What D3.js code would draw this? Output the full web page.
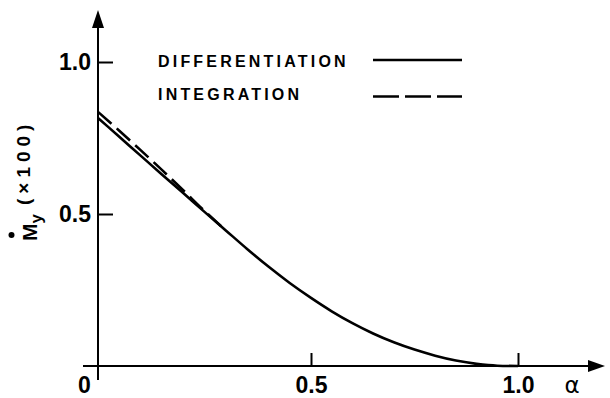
<!DOCTYPE html>
<meta charset="utf-8">
<style>
body { margin: 0; background: #fff; }
.axis-line { stroke: #000; stroke-width: 2px; fill: none; }
.arrow { fill: #000; }
.tick line { stroke: #000; stroke-width: 2px; }
.tick text { font: bold 23px "Liberation Sans", Arial, sans-serif; fill: #000; }
.curve { fill: none; stroke: #000; stroke-width: 2.6px; }
.legend text { font: bold 16px "Liberation Sans", Arial, sans-serif; letter-spacing: 3.2px; fill: #000; }
.legend line { stroke: #000; stroke-width: 2.6px; }
</style>
<svg width="610" height="398"></svg>
<script src="https://d3js.org/d3.v7.min.js"></script>
<script>

// --- data ---
var alphaDiff = [0, 0.05, 0.1, 0.15, 0.2, 0.25, 0.3, 0.35, 0.4, 0.45, 0.5,
                 0.55, 0.6, 0.65, 0.7, 0.75, 0.8, 0.85, 0.9, 0.95, 1.0];
var myDiff = [0.816, 0.754, 0.692, 0.630, 0.569, 0.507, 0.446, 0.385, 0.327, 0.273, 0.224,
              0.180, 0.141, 0.107, 0.078, 0.054, 0.034, 0.018, 0.007, 0.001, 0];
var alphaInt = [0, 0.05, 0.1, 0.15, 0.2, 0.25, 0.3];
var myInt = [0.836, 0.774, 0.710, 0.645, 0.578, 0.510, 0.446];

var xTicks = [0, 0.5, 1.0];
var xTickLabels = ["0", "0.5", "1.0"];
var yTicks = [0.5, 1.0];
var yTickLabels = ["0.5", "1.0"];
var legendNames = ["DIFFERENTIATION", "INTEGRATION"];

var svg = d3.select("svg");

// hand-drawn axis: 0.5 is not quite in the middle
var x = d3.scaleLinear().domain([0, 0.5, 1]).range([98, 311, 518]);
var y = d3.scaleLinear().domain([0, 1]).range([366, 62]);

var line = d3.line()
    .curve(d3.curveMonotoneX)
    .x(function(d) { return x(d[0]); })
    .y(function(d) { return y(d[1]); });

// axes lines with arrows
svg.append("line").attr("class", "axis-line")
    .attr("x1", x(0)).attr("x2", x(0)).attr("y1", y(0) + 14).attr("y2", 22);
svg.append("path").attr("class", "arrow")
    .attr("d", "M" + x(0) + ",10 L" + (x(0) - 6) + ",28 L" + (x(0) + 6) + ",28 Z");
svg.append("line").attr("class", "axis-line")
    .attr("x1", x(0) - 15).attr("x2", 592).attr("y1", y(0)).attr("y2", y(0));
svg.append("path").attr("class", "arrow")
    .attr("d", "M605," + y(0) + " L588," + (y(0) - 6) + " L588," + (y(0) + 6) + " Z");

// ticks
var yAxis = svg.append("g")
    .attr("transform", "translate(" + x(0) + ",0)")
    .call(d3.axisLeft(y).tickValues(yTicks)
      .tickFormat(function(d, i) { return yTickLabels[i]; })
      .tickSizeInner(-15).tickSizeOuter(0).tickPadding(7));
yAxis.select(".domain").remove();
yAxis.attr("font-family", null).attr("font-size", null);

var xAxis = svg.append("g")
    .attr("transform", "translate(0," + y(0) + ")")
    .call(d3.axisBottom(x).tickValues(xTicks)
      .tickFormat(function(d, i) { return xTickLabels[i]; })
      .tickSizeInner(-13).tickSizeOuter(0).tickPadding(11));
xAxis.select(".domain").remove();
xAxis.attr("font-family", null).attr("font-size", null);
var zeroTick = xAxis.selectAll(".tick").filter(function(d) { return d === 0; });
zeroTick.select("text").attr("x", -14);
zeroTick.select("line").remove();

// alpha label
svg.append("text")
    .attr("x", 572).attr("y", 393)
    .attr("text-anchor", "middle")
    .style("font", "23px 'DejaVu Sans', sans-serif")
    .text("α");

// y label (rotated)
var yl = svg.append("g").attr("transform", "translate(37,241) rotate(-90)");
var t = yl.append("text").style("font-family", "'Liberation Sans', Arial, sans-serif").style("font-weight", "bold");
t.append("tspan").style("font-size", "21px").text("M");
t.append("tspan").style("font-size", "17px").attr("dy", 5).attr("dx", 0).text("y");
t.append("tspan").style("font-size", "19px").attr("dy", -12).attr("dx", 9)
    .style("letter-spacing", "5px").text("(×100)");
yl.append("circle").attr("cx", 6).attr("cy", -25.5).attr("r", 3).attr("fill", "#000");

// curves
var diffPts = alphaDiff.map(function(a, i) { return [a, myDiff[i]]; });
var intPts = alphaInt.map(function(a, i) { return [a, myInt[i]]; });

svg.append("path").datum(intPts).attr("class", "curve")
    .attr("stroke-dasharray", "18,7")
    .attr("d", line);
svg.append("path").datum(diffPts).attr("class", "curve")
    .attr("d", line);

// legend
var legend = svg.append("g").attr("class", "legend");
legend.selectAll("text").data(legendNames).enter().append("text")
    .attr("x", 158)
    .attr("y", function(d, i) { return 67 + i * 33; })
    .text(function(d) { return d; });
legend.selectAll("line").data(legendNames).enter().append("line")
    .attr("x1", 373).attr("x2", 462)
    .attr("y1", function(d, i) { return 60 + i * 36.5; })
    .attr("y2", function(d, i) { return 60 + i * 36.5; })
    .attr("stroke-dasharray", function(d, i) { return i === 0 ? null : "26,6"; });

</script>
